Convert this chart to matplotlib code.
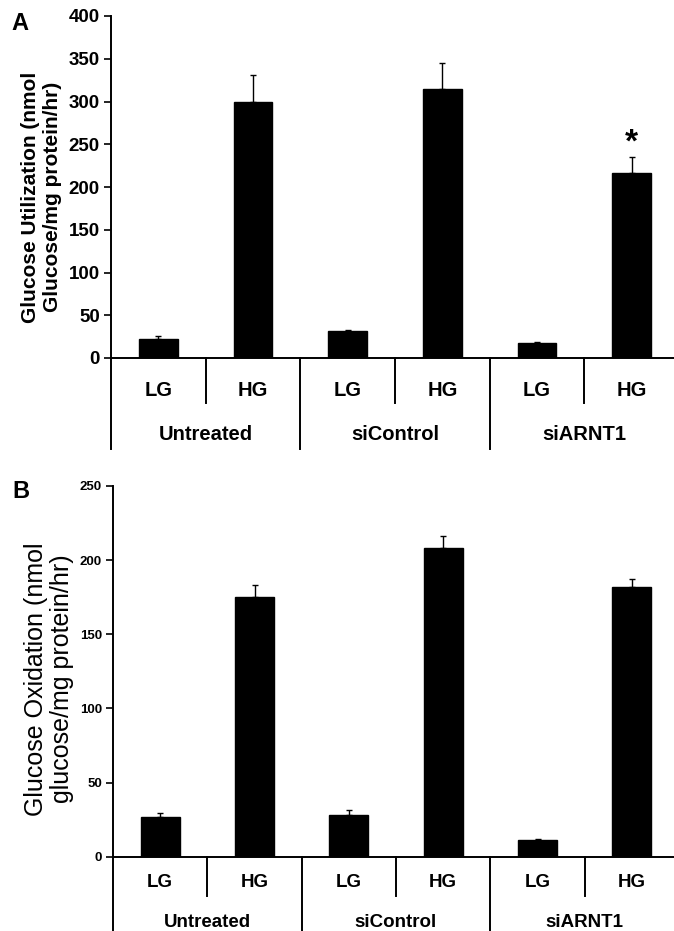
import numpy as np
import matplotlib.pyplot as plt

plt.rcParams['font.family'] = ['Liberation Sans', 'DejaVu Sans']

conditions = ["LG", "HG", "LG", "HG", "LG", "HG"]
groups = ["Untreated", "siControl", "siARNT1"]

# panel A: glucose utilization
util_mean = [22, 299, 31, 315, 18, 216]
util_err = [3.5, 32, 2, 30, 1.2, 19]
util_ticks = [0, 50, 100, 150, 200, 250, 300, 350, 400]

# panel B: glucose oxidation
oxid_mean = [27, 175, 28, 208, 11.5, 182]
oxid_err = [2.7, 8.5, 3.8, 8, 0.5, 5]
oxid_ticks = [0, 50, 100, 150, 200, 250]

W, H = 674, 931
fig = plt.figure(figsize=(W / 100, H / 100), dpi=100)


def draw_panel(ax, means, errs, ticks, ylabel, tick_fs, ylab_fs, ylab_weight,
               ylab_ls, ylab_y, cat_fs, short_px, long_px, cat_px, grp_px,
               ax_h_px, labelpad):
    x = np.arange(len(means))
    ax.bar(x, means, width=0.41, color="black", edgecolor="black", zorder=2)
    ax.errorbar(x, means, yerr=[np.zeros(len(errs)), errs], fmt="none",
                ecolor="black", elinewidth=1.0, capsize=2.5, capthick=1.0, zorder=1)
    ax.set_xlim(-0.5, len(means) - 0.5)
    ax.set_ylim(ticks[0], ticks[-1])
    ax.set_yticks(ticks)
    ax.set_yticklabels([str(t) for t in ticks], fontsize=tick_fs, fontweight="bold")
    ax.set_xticks([])
    for s in ["top", "right"]:
        ax.spines[s].set_visible(False)
    for s in ["left", "bottom"]:
        ax.spines[s].set_linewidth(1.4)
    ax.tick_params(axis="y", direction="out", length=5, width=1.2, pad=3)
    lab = ax.set_ylabel(ylabel, fontsize=ylab_fs, fontweight=ylab_weight,
                        linespacing=ylab_ls, labelpad=labelpad)
    lab.set_y(ylab_y)

    tr = ax.get_xaxis_transform()
    f = lambda px: -px / ax_h_px
    # short dividers between LG and HG
    for xd in [0.5, 2.5, 4.5]:
        ax.plot([xd, xd], [0, f(short_px)], color="black", lw=1.4,
                transform=tr, clip_on=False)
    # long dividers between treatment groups
    for xd in [-0.5, 1.5, 3.5, 5.5]:
        ax.plot([xd, xd], [0, f(long_px)], color="black", lw=1.4,
                transform=tr, clip_on=False)
    for xi, lab in zip(x, conditions):
        ax.text(xi, f(cat_px), lab, transform=tr, ha="center", va="center",
                fontsize=cat_fs, fontweight="bold")
    for gi, g in enumerate(groups):
        ax.text(2 * gi + 0.5, f(grp_px), g, transform=tr, ha="center", va="center",
                fontsize=cat_fs, fontweight="bold")


# panel A
axA = fig.add_axes([111 / W, 1 - 358 / H, (679 - 111) / W, (358 - 16) / H])
draw_panel(axA, util_mean, util_err, util_ticks,
           "Glucose Utilization (nmol\nGlucose/mg protein/hr)",
           13.5, 15, "bold", 1.2, 0.47, 14.5, 45, 91, 32, 77, 342, 5)
axA.annotate("*", xy=(5, util_mean[5] + util_err[5]), xytext=(0, 4),
             textcoords="offset points", ha="center", va="baseline",
             fontsize=24, fontweight="bold")
fig.text(20 / W, 1 - 23 / H, "A", fontsize=17, fontweight="bold",
         ha="center", va="center")

# panel B
axB = fig.add_axes([113 / W, 1 - 856.7 / H, (679 - 113) / W, (856.7 - 486) / H])
draw_panel(axB, oxid_mean, oxid_err, oxid_ticks,
           "Glucose Oxidation (nmol\nglucose/mg protein/hr)",
           9.5, 18, "normal", 1.1, 0.48, 13.5, 39, 120, 26, 66, 370.7, 4)
fig.text(21 / W, 1 - 492 / H, "B", fontsize=17, fontweight="bold",
         ha="center", va="center")

fig.savefig("out.png", dpi=100)
